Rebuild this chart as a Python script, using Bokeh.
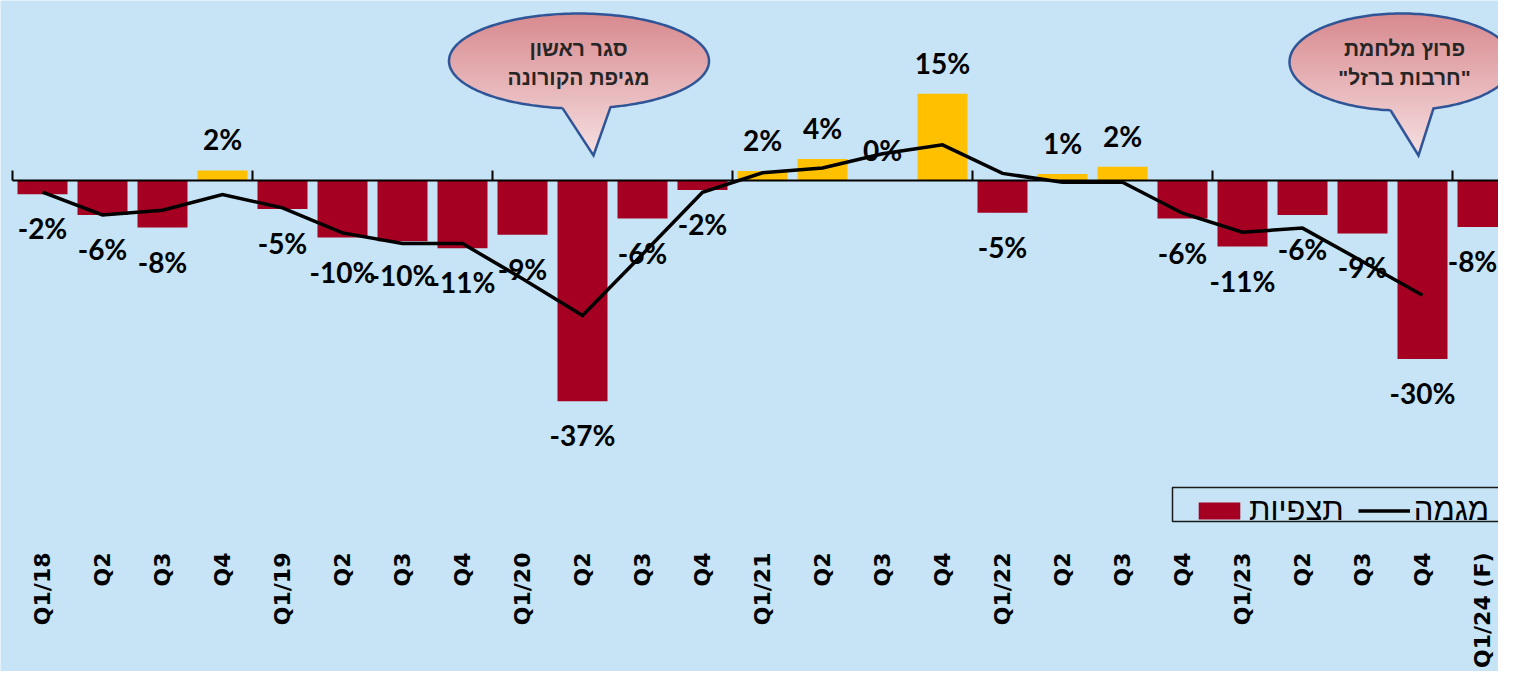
import numpy as np
from math import pi
from bokeh.plotting import figure
from bokeh.models import Range1d, FixedTicker, Legend, LegendItem, ColumnDataSource
from bokeh.core.properties import value
from bokeh.embed import file_html
from bokeh.resources import INLINE

# ---------------- data ----------------
quarters = ["Q1/18", "Q2", "Q3", "Q4", "Q1/19", "Q2", "Q3", "Q4",
            "Q1/20", "Q2", "Q3", "Q4", "Q1/21", "Q2", "Q3", "Q4",
            "Q1/22", "Q2", "Q3", "Q4", "Q1/23", "Q2", "Q3", "Q4", "Q1/24 (F)"]
observed = [-2.3, -5.8, -7.9, 1.7, -4.8, -9.6, -10.2, -11.4,
            -9.1, -37.1, -6.4, -1.6, 1.6, 3.6, 0.0, 14.6,
            -5.4, 1.1, 2.3, -6.4, -11.1, -5.8, -8.9, -30.0, -7.8]
trend = [-1.96, -5.8, -5.0, -2.35, -4.6, -8.8, -10.6, -10.6,
         -16.5, -22.7, -12.4, -2.0, 1.3, 2.1, 4.5, 6.0,
         1.2, -0.3, -0.3, -5.5, -8.7, -8.0, -13.6, -19.3]
callout1_lines = ["סגר ראשון", "מגיפת הקורונה"]
callout2_lines = ["פרוץ מלחמת", '"חרבות ברזל"']
legend_labels = ["תצפיות", "מגמה"]

# ---------------- style / layout ----------------
BG = "#C6E4F6"
RED = "#A50021"
YEL = "#FFC000"
W, HF = 1498, 671
FRAME_H = HF           # axis is placed at a fixed location inside the frame
PX = 5.95              # pixels per percentage point
ZERO_PX = 180          # zero line, px from frame top
STEP = 60              # px per category
C0 = 42                # px of first category centre

y_end = ZERO_PX / PX
y_start = y_end - FRAME_H / PX


def dx(px):
    return (px - C0) / STEP


def dy(py):
    return (ZERO_PX - py) / PX


p = figure(width=W, height=HF, output_backend="svg", toolbar_location=None,
           x_range=Range1d(dx(0), dx(W)), y_range=Range1d(y_start, y_end),
           y_axis_location=None, min_border=0,
           background_fill_color=BG, border_fill_color=BG)
p.outline_line_color = None
p.grid.visible = False

xs = list(range(len(quarters)))
colors = [RED if v < 0 else YEL for v in observed]
lab_y = [v + 31 / PX if v >= 0 else v - 34 / PX for v in observed]
lab_t = [f"{v:.0f}%" for v in observed]
# keep the last label inside the right edge of the canvas
lab_dx = [0] * (len(observed) - 1) + [-10]
src = ColumnDataSource(dict(x=xs, top=observed, color=colors, ly=lab_y, lt=lab_t, ldx=lab_dx))

bars = p.vbar(x="x", top="top", bottom=0, width=50 / STEP, fill_color="color",
              line_color=None, source=src)

# zero axis line and group ticks
p.segment(x0=[-0.5], y0=[0], x1=[len(quarters) - 0.5], y1=[0], line_color="black", line_width=2)
tick_x = [i - 0.5 for i in range(0, len(quarters) + 1, 4)]
p.segment(x0=tick_x, y0=[0] * len(tick_x), x1=tick_x, y1=[10 / PX] * len(tick_x),
          line_color="black", line_width=2)

trend_r = p.line(x=xs[:len(trend)], y=trend, line_color="black", line_width=3.5,
                 line_join="miter")

p.text(x="x", y="ly", text="lt", x_offset="ldx", source=src, text_font=value("Lato"),
       text_font_style="bold", text_font_size="28px", text_color="black",
       text_align="center", text_baseline="middle")


# ---------------- callouts ----------------
def callout(cx, cy, a, b, jx1, jx2, tip, lines, tx):
    c_top = np.array([216, 138, 143])
    c_bot = np.array([246, 224, 226])
    tl = np.arccos((jx1 - cx) / a)
    tr = np.arccos((jx2 - cx) / a)
    yj = min(cy + b * np.sin(tl), cy + b * np.sin(tr))
    top = cy - b
    bot = tip[1]
    L, R, T, B, C = [], [], [], [], []
    for ry in np.arange(top, bot, 1.0):
        yc = ry + 0.5
        ext = []
        d = (yc - cy) / b
        if abs(d) < 1:
            hw = a * np.sqrt(1 - d * d)
            ext += [cx - hw, cx + hw]
        if yj <= yc <= bot:
            f = (yc - yj) / (bot - yj)
            ext += [jx1 + (tip[0] - jx1) * f, jx2 + (tip[0] - jx2) * f]
        if not ext:
            continue
        t = (yc - top) / (bot - top)
        c = (c_top + (c_bot - c_top) * t).astype(int)
        L.append(dx(min(ext)))
        R.append(dx(max(ext)))
        T.append(dy(ry))
        B.append(dy(ry + 1.6))
        C.append("#%02x%02x%02x" % tuple(c))
    p.quad(left=L, right=R, top=T, bottom=B, fill_color=C, line_color=None)
    ts = np.linspace(tl, tr + 2 * np.pi, 200)
    ox = list(cx + a * np.cos(ts)) + [tip[0], cx + a * np.cos(tl)]
    oy = list(cy + b * np.sin(ts)) + [tip[1], cy + b * np.sin(tl)]
    p.line(x=[dx(v) for v in ox], y=[dy(v) for v in oy], line_color="#2F5597",
           line_width=2.5, line_join="miter")
    p.text(x=[dx(tx)] * len(lines), y=[dy(48), dy(77)], text=lines,
           text_font=value("Liberation Sans"), text_font_style="bold",
           text_font_size="21px", text_color="#262626",
           text_align="center", text_baseline="middle")


callout(578.5, 60.5, 130, 47.5, 562, 610, (593, 155), callout1_lines, 578)
callout(1401, 61.5, 112, 48.5, 1390, 1433, (1418, 155), callout2_lines, 1404)

# ---------------- x axis (labels only, fixed low position) ----------------
ax = p.xaxis[0]
ax.fixed_location = dy(538)
ax.ticker = FixedTicker(ticks=xs)
ax.major_label_overrides = {i: q for i, q in zip(xs, quarters)}
ax.major_label_orientation = pi / 2
ax.major_label_text_font = "DejaVu Sans"
ax.major_label_text_font_style = "bold"
ax.major_label_text_font_size = "22px"
ax.major_label_text_color = "black"
ax.major_label_standoff = 8
ax.axis_line_color = None
ax.major_tick_line_color = None
ax.minor_tick_line_color = None

# ---------------- legend ----------------
p.quad(left=[dx(1172)], right=[dx(1540)], top=[dy(487)], bottom=[dy(521)],
       fill_alpha=0, line_color="#1a1a1a", line_width=1.5)
legend = Legend(items=[LegendItem(label=legend_labels[0], renderers=[bars], index=0),
                       LegendItem(label=legend_labels[1], renderers=[trend_r])],
                location=(1193, FRAME_H - 528), orientation="horizontal",
                border_line_color=None, background_fill_alpha=0,
                label_text_font="Liberation Sans",
                label_text_font_size="31px", label_text_color="black",
                glyph_width=52, glyph_height=21, label_standoff=4, spacing=14,
                padding=0, margin=0, label_height=21)
p.add_layout(legend)

open("out.html", "w").write(file_html(p, INLINE))
